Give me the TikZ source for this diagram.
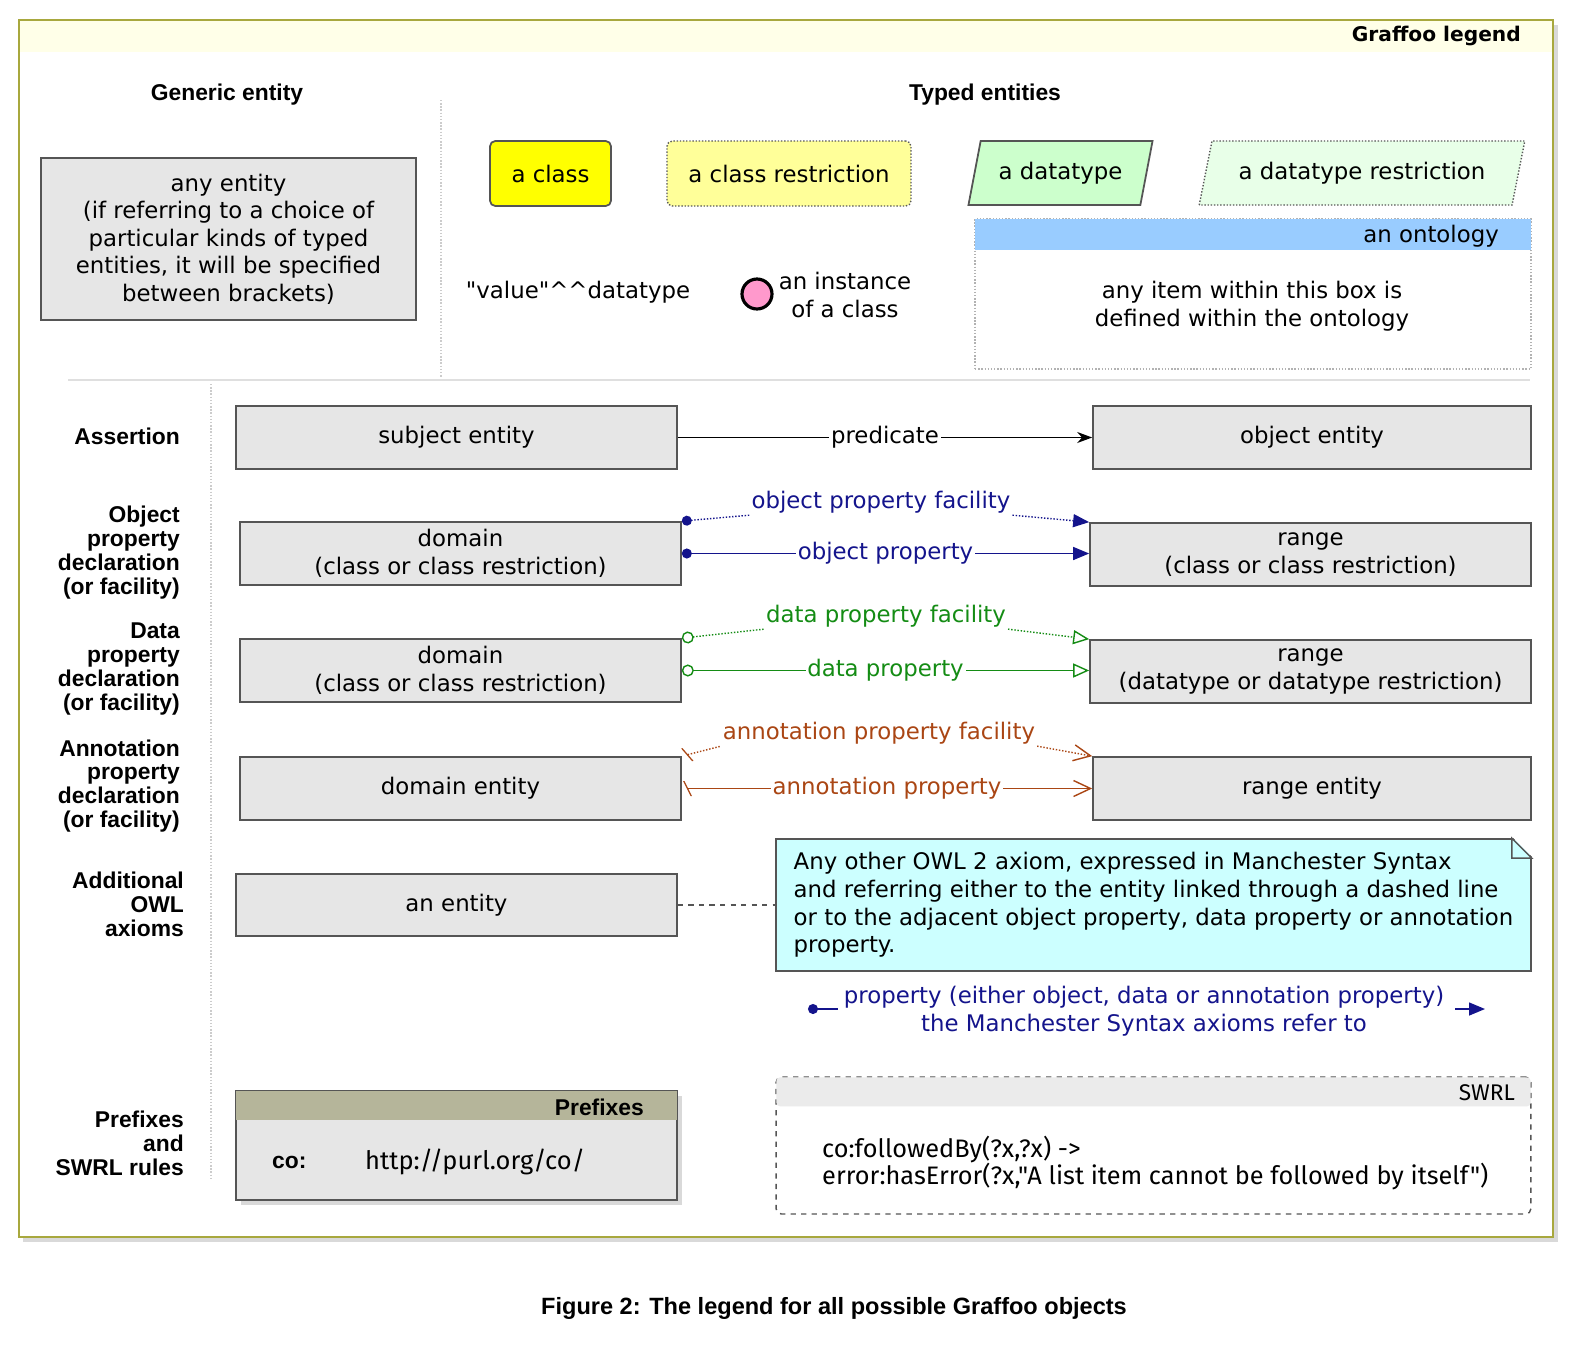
\documentclass[tikz,border=0pt]{standalone}
\usepackage{fontspec}
\setmainfont{DejaVu Sans}
\newfontfamily\litfont{DejaVu Sans}
\newfontfamily\labfont{Liberation Sans}
\newfontfamily\swrlfont{Fira Sans}
\usetikzlibrary{arrows.meta,shapes.geometric}
\definecolor{framecol}{RGB}{168,168,62}
\definecolor{headcol}{RGB}{255,255,232}
\definecolor{boxgray}{RGB}{230,230,230}
\definecolor{boxline}{RGB}{85,85,85}
\definecolor{classyellow}{RGB}{255,255,0}
\definecolor{restryellow}{RGB}{255,255,153}
\definecolor{dtgreen}{RGB}{204,255,204}
\definecolor{dtrgreen}{RGB}{232,255,232}
\definecolor{ontoblue}{RGB}{153,204,255}
\definecolor{instpink}{RGB}{255,153,204}
\definecolor{notecyan}{RGB}{204,255,255}
\definecolor{prefhead}{RGB}{181,181,154}
\definecolor{swrlhead}{RGB}{235,235,235}
\definecolor{objprop}{RGB}{20,20,140}
\definecolor{dataprop}{RGB}{20,140,20}
\definecolor{annprop}{RGB}{170,70,20}
\tikzstyle{every node}=[font=\fontsize{13}{15.7}\selectfont]
\tikzstyle{entity}=[draw=boxline, fill=boxgray, line width=1pt, minimum width=8.82cm, minimum height=1.26cm, align=center]
\tikzstyle{rowlabel}=[anchor=east, align=right, font=\labfont\bfseries\fontsize{13}{13.6}\selectfont]
\tikzstyle{heading}=[font=\labfont\bfseries\fontsize{13}{16}\selectfont]
\tikzstyle{proplabel}=[fill=white, inner sep=1pt]
\tikzstyle{objline}=[draw=objprop, line width=0.8pt]
\tikzstyle{dataline}=[draw=dataprop, line width=0.8pt]
\tikzstyle{annline}=[draw=annprop, line width=0.8pt]
\tikzstyle{objtip}=[-{Triangle[length=0.32cm, width=0.26cm]}]
\tikzstyle{datatip}=[-{Triangle[open, length=0.32cm, width=0.28cm, fill=white]}]
\tikzstyle{anntip}=[-{Straight Barb[length=0.34cm, width=0.32cm]}]

\begin{document}
\begin{tikzpicture}[x=0.02cm, y=-0.02cm]
            \useasboundingbox (0,0) rectangle (1593,1367);
            \fill[gray!30] (23,25) rectangle (1558,1242);
            \fill[white] (19,20) rectangle (1553,1237);
            \fill[headcol] (19,20) rectangle (1553,52);
            \draw[framecol, line width=1.2pt] (19,20) rectangle (1553,1237);
            \node[anchor=east, font=\bfseries\fontsize{11.5}{14}\selectfont] (title) at (1527,36) {Graffoo legend};

            \draw[gray!40, densely dotted, line width=0.8pt] (441,100) -- (441,378);
            \draw[gray!25, line width=1.5pt] (68,380) -- (1530,380);
            \draw[gray!40, densely dotted, line width=0.8pt] (211,384) -- (211,1180);

            \node[heading] (generic) at (227,95) {Generic entity};
            \node[heading] (typed) at (985,95) {Typed entities};

            \node[entity, minimum width=7.5cm, minimum height=3.24cm] (anyent) at (228.5,239)
                {any entity\\(if referring to a choice of\\particular kinds of typed\\entities, it will be specified\\between brackets)};

            \node[draw=boxline, fill=classyellow, line width=1pt, rounded corners=3pt,
                minimum width=2.42cm, minimum height=1.3cm] (cls) at (550.5,173.5) {a class};
            \node[draw=gray!70!black, fill=restryellow, densely dotted, line width=0.8pt, rounded corners=3pt,
                minimum width=4.88cm, minimum height=1.3cm] (clsres) at (789,173.5) {a class restriction};
            \node[trapezium, trapezium left angle=73, trapezium right angle=107, trapezium stretches=true,
                draw=boxline, fill=dtgreen, line width=1pt,
                minimum width=3.7cm, minimum height=1.28cm] (dt) at (1060.5,173) {a datatype};
            \node[trapezium, trapezium left angle=72, trapezium right angle=108, trapezium stretches=true,
                draw=gray!70!black, fill=dtrgreen, densely dotted, line width=0.8pt,
                minimum width=6.52cm, minimum height=1.28cm] (dtres) at (1362,173) {a datatype restriction};

            \node[draw=gray!60, densely dotted, line width=0.8pt, minimum width=11.12cm, minimum height=3cm] (onto) at (1253,294) {};
            \fill[ontoblue] ([xshift=0.4pt, yshift=-0.4pt]onto.north west) rectangle ([xshift=-0.4pt, yshift=-0.64cm]onto.north east);
            \node[anchor=east] (ontoname) at (1505,236) {an ontology};
            \node[align=center] (ontotxt) at (1252,306) {any item within this box is\\defined within the ontology};

            \node[font=\litfont\fontsize{13}{15.7}\selectfont] (literal) at (578,292) {"value"\textasciicircum\textasciicircum datatype};
            \node[circle, draw=black, fill=instpink, line width=1.8pt, minimum size=0.6cm, inner sep=0pt] (inst) at (757,294) {};
            \node[align=center] (insttxt) at (845,295) {an instance\\of a class};

            \node[rowlabel] (lassert) at (186,436) {Assertion};
            \node[entity] (subj) at (456.5,437.5) {subject entity};
            \node[entity, minimum width=8.76cm] (obj) at (1312,437.5) {object entity};
            \draw[line width=0.8pt, -{Stealth[length=0.3cm, width=0.22cm]}] (subj.east) -- (obj.west)
                node[proplabel, pos=0.5]{predicate};

            \node[rowlabel] (lobj) at (186,552.5) {Object\\property\\declaration\\(or facility)};
            \node[entity] (dom1) at (460.5,553.5) {domain\\(class or class restriction)};
            \node[entity] (rng1) at (1310.5,554.5) {range\\(class or class restriction)};
            \node[proplabel, text=objprop] (opf) at (881,502) {object property facility};
            \draw[objline, densely dotted, {Circle[length=0.2cm]}-] (dom1.north east) -- (opf.south west);
            \draw[objline, densely dotted, objtip] (opf.south east) -- (rng1.north west);
            \draw[objline, {Circle[length=0.2cm]}-{Triangle[length=0.32cm, width=0.26cm]}] (dom1.east) -- (rng1.west |- dom1.east)
                node[proplabel, pos=0.5, text=objprop]{object property};

            \node[rowlabel] (ldata) at (186,669) {Data\\property\\declaration\\(or facility)};
            \node[entity] (dom2) at (460.5,670.5) {domain\\(class or class restriction)};
            \node[entity] (rng2) at (1310.5,671.5) {range\\(datatype or datatype restriction)};
            \node[proplabel, text=dataprop] (dpf) at (886,616) {data property facility};
            \draw[dataline, densely dotted, {Circle[open, length=0.24cm, fill=white]}-] (dom2.north east) -- (dpf.south west);
            \draw[dataline, densely dotted, datatip] (dpf.south east) -- (rng2.north west);
            \draw[dataline, {Circle[open, length=0.24cm, fill=white]}-{Triangle[open, length=0.32cm, width=0.28cm, fill=white]}] (dom2.east) -- (rng2.west |- dom2.east)
                node[proplabel, pos=0.5, text=dataprop]{data property};

            \node[rowlabel] (lann) at (186,786) {Annotation\\property\\declaration\\(or facility)};
            \node[entity] (dom3) at (460.5,788.5) {domain entity};
            \node[entity, minimum width=8.76cm] (rng3) at (1312,788.5) {range entity};
            \node[proplabel, text=annprop] (apf) at (879,733) {annotation property facility};
            \draw[annline, densely dotted, {Bar[width=0.3cm, slant=-0.5, sep=0.1cm]}-] (dom3.north east) -- (apf.south west);
            \draw[annline, densely dotted, anntip] (apf.south east) -- (rng3.north west);
            \draw[annline, {Bar[width=0.3cm, slant=-0.5, sep=0.1cm]}-{Straight Barb[length=0.34cm, width=0.32cm]}] (dom3.east) -- (rng3.west)
                node[proplabel, pos=0.5, text=annprop]{annotation property};

            \node[rowlabel] (lowl) at (190,904) {Additional\\OWL\\axioms};
            \node[entity, minimum height=1.24cm] (ent) at (456.5,905) {an entity};
            \node[draw=boxline, fill=notecyan, line width=1pt, minimum width=15.1cm, minimum height=2.64cm, align=left] (note) at (1153.5,905)
                {Any other OWL 2 axiom, expressed in Manchester Syntax\\and referring either to the entity linked through a dashed line\\or to the adjacent object property, data property or annotation\\property.};
            \fill[white] ([xshift=-0.4cm, yshift=1pt]note.north east) -- ([xshift=1pt, yshift=1pt]note.north east) -- ([xshift=1pt, yshift=-0.4cm]note.north east) -- cycle;
            \draw[boxline, line width=0.8pt] ([xshift=-0.4cm]note.north east) -- ([yshift=-0.4cm]note.north east)
                -- ([xshift=-0.4cm, yshift=-0.4cm]note.north east) -- cycle;
            \draw[dashed, boxline, line width=0.8pt] (ent.east) -- (note.west |- ent.east);

            \coordinate (pdot) at (808,1009);
            \coordinate (pdotend) at (838,1009);
            \coordinate (parrow) at (1455,1009);
            \coordinate (parrowend) at (1485,1009);
            \node[align=center, text=objprop] (proptxt) at (1144,1011)
                {property (either object, data or annotation property)\\the Manchester Syntax axioms refer to};
            \draw[objline, {Circle[length=0.2cm]}-] (pdot) -- (pdotend);
            \draw[objline, objtip] (parrow) -- (parrowend);

            \node[rowlabel] (lpref) at (190,1143) {Prefixes\\and\\SWRL rules};
            \fill[gray!30] (241,1096) rectangle (682,1205);
            \node[entity, minimum height=2.18cm] (pref) at (456.5,1145.5) {};
            \fill[prefhead] ([xshift=0.5pt, yshift=-0.5pt]pref.north west) rectangle ([xshift=-0.5pt, yshift=-0.6cm]pref.north east);
            \node[anchor=east, font=\labfont\bfseries\fontsize{13}{16}\selectfont] (prefname) at (650,1107) {Prefixes};
            \node[anchor=west, font=\labfont\bfseries\fontsize{13}{16}\selectfont] (prefkey) at (266,1162) {co:};
            \node[anchor=west, font=\swrlfont\fontsize{14.5}{16}\selectfont] (prefurl) at (359,1162) {http://purl.org/co/};

            \node[draw=boxline, fill=white, dashed, line width=0.8pt, rounded corners=3pt,
                minimum width=15.1cm, minimum height=2.74cm] (swrl) at (1153.5,1145.5) {};
            \fill[swrlhead] ([xshift=0.6pt, yshift=-0.6pt]swrl.north west) [rounded corners=2pt] rectangle ([xshift=-0.6pt, yshift=-0.6cm]swrl.north east);
            \node[anchor=east, font=\swrlfont\fontsize{12.9}{14}\selectfont] (swrlname) at (1521,1093) {SWRL};
            \node[anchor=west, align=left, font=\swrlfont\fontsize{14.4}{15.7}\selectfont] (swrltxt) at (816,1163)
                {co:followedBy(?x,?x) -\textgreater\\error:hasError(?x,"A list item cannot be followed by itself")};

            \node[font=\labfont\bfseries\fontsize{13.4}{15}\selectfont] (caption) at (834,1308)
                {Figure 2: The legend for all possible Graffoo objects};
        \end{tikzpicture}
\end{document}
